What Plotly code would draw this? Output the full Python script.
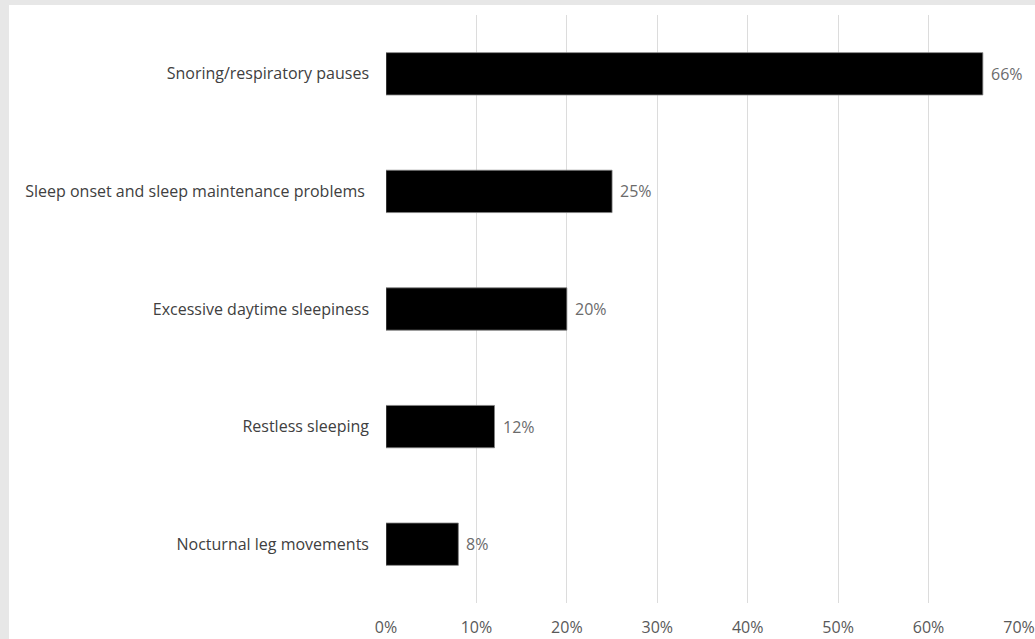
import plotly.graph_objects as go

categories = [
    "Snoring/respiratory pauses",
    "Sleep onset and sleep maintenance problems ",
    "Excessive daytime sleepiness",
    "Restless sleeping",
    "Nocturnal leg movements",
]
values = [0.66, 0.25, 0.20, 0.12, 0.08]
labels = ["66%", "25%", "20%", "12%", "8%"]
tick_vals = [0, 0.1, 0.2, 0.3, 0.4, 0.5, 0.6, 0.7]
tick_text = ["0%", "10%", "20%", "30%", "40%", "50%", "60%", "70%"]

FONT = "Open Sans"

fig = go.Figure(
    go.Bar(
        x=values,
        y=categories,
        orientation="h",
        marker=dict(color="#000000", line=dict(color="#808080", width=0.8)),
        width=0.36,
    )
)

annotations = [
    dict(
        x=v, y=c, xref="x", yref="y", text=t, showarrow=False,
        xanchor="left", yanchor="middle", xshift=6,
        font=dict(family=FONT, size=16, color="#6b6b6b"),
    )
    for v, c, t in zip(values, categories, labels)
]

fig.update_layout(
    width=1035,
    height=639,
    margin=dict(l=386, r=16, t=15, b=36, autoexpand=False),
    paper_bgcolor="#e7e7e7",
    plot_bgcolor="#ffffff",
    showlegend=False,
    font=dict(family=FONT, size=16, color="#404040"),
    annotations=annotations,
    shapes=[
        dict(
            type="rect", xref="paper", yref="paper",
            x0=-0.5956, x1=1.1, y0=-0.2, y1=1.017,
            fillcolor="#ffffff", line=dict(width=0), layer="below",
        )
    ],
    xaxis=dict(
        range=[0, 0.7],
        tickvals=tick_vals,
        ticktext=tick_text,
        showgrid=True,
        gridcolor="#dcdcdc",
        gridwidth=1,
        zeroline=False,
        showline=False,
        ticks="",
        automargin=False,
        ticklabelstandoff=13,
        tickfont=dict(family=FONT, size=16, color="#595959"),
    ),
    yaxis=dict(
        categoryorder="array",
        categoryarray=categories[::-1],
        showgrid=False,
        zeroline=False,
        showline=False,
        ticks="",
        automargin=False,
        ticklabelstandoff=16,
        tickfont=dict(family=FONT, size=16, color="#404040"),
    ),
)

fig.write_html("out.html")
